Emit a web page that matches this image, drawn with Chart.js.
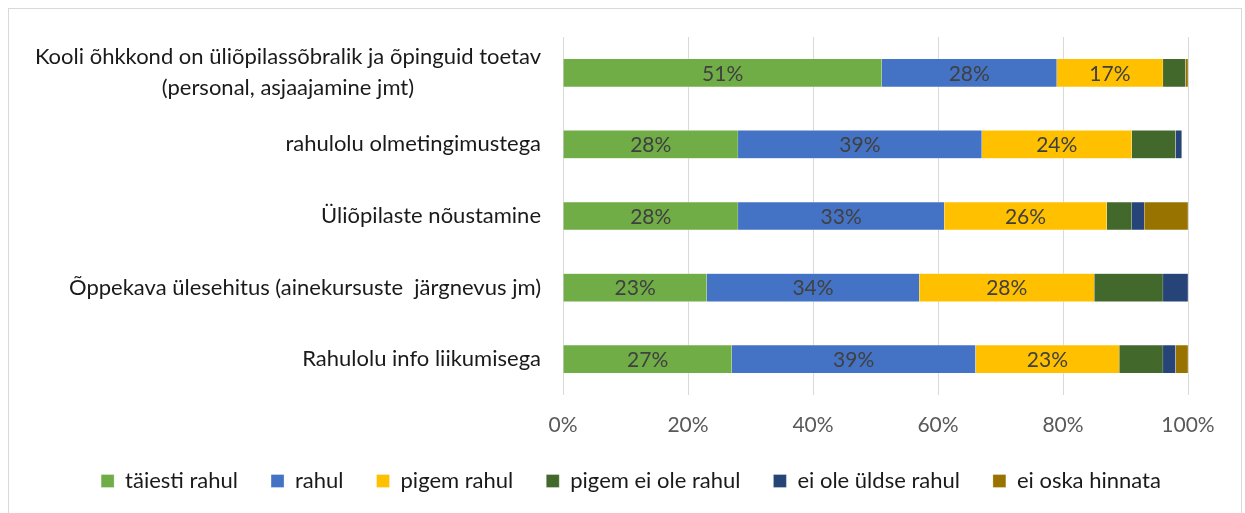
<!DOCTYPE html>
<html>
<head>
<meta charset="utf-8">
<script src="https://cdn.jsdelivr.net/npm/chart.js@4.4.1/dist/chart.umd.min.js"></script>
<style>
  body { margin: 0; background: #fff; }
  #wrap { position: relative; width: 1245px; height: 513px; }
  #frame { position: absolute; left: 8px; top: 8px; width: 1234px; height: 510px; border: 1px solid #d9d9d9; box-sizing: border-box; }
  canvas { position: absolute; left: 0; top: 0; }
</style>
</head>
<body>
<div id="wrap">
  <div id="frame"></div>
  <canvas id="chart" width="1245" height="513"></canvas>
</div>
<script>
const kategooriad = [
    ['Kooli õhkkond on üliõpilassõbralik ja õpinguid toetav', '(personal, asjaajamine jmt)'],
    'rahulolu olmetingimustega',
    'Üliõpilaste nõustamine',
    'Õppekava ülesehitus (ainekursuste  järgnevus jm)',
    'Rahulolu info liikumisega'
];
const seeriad = ['täiesti rahul', 'rahul', 'pigem rahul', 'pigem ei ole rahul', 'ei ole üldse rahul', 'ei oska hinnata'];
const taiestiRahul = [51, 28, 28, 23, 27];
const rahul = [28, 39, 33, 34, 39];
const pigemRahul = [17, 24, 26, 28, 23];
const pigemEiOle = [3.6, 7, 4, 11, 7];
const eiOleUldse = [0, 1, 2, 4, 2];
const eiOska = [0.4, 0, 7, 0, 2];
const xTicks = [0, 20, 40, 60, 80, 100];

const VARVID = ['#70AD47', '#4472C4', '#FFC000', '#43682B', '#264478', '#997300'];
const FONT = 'Lato';

// sildid tulpade sees (ainult 3 esimest seeriat)
const tulbaSildid = {
    id: 'tulbaSildid',
    afterDatasetsDraw(chart) {
        const ctx = chart.ctx;
        ctx.save();
        ctx.font = '21px ' + FONT;
        ctx.fillStyle = '#404040';
        ctx.textAlign = 'center';
        ctx.textBaseline = 'middle';
        [0, 1, 2].forEach(i => {
            chart.getDatasetMeta(i).data.forEach((bar, j) => {
                const v = chart.data.datasets[i].data[j];
                ctx.fillText(Math.round(v) + '%', (bar.x + bar.base) / 2, bar.y + 1);
            });
        });
        ctx.restore();
    }
};

// kategooriate nimed vasakul, mitmerealine keskele joondatud
const kategooriaSildid = {
    id: 'kategooriaSildid',
    afterDraw(chart) {
        const ctx = chart.ctx;
        const y = chart.scales.y;
        const parem = chart.chartArea.left - 22;
        ctx.save();
        ctx.font = '22px ' + FONT;
        ctx.fillStyle = '#1a1a1a';
        ctx.textAlign = 'center';
        ctx.textBaseline = 'middle';
        kategooriad.forEach((k, i) => {
            const read = Array.isArray(k) ? k : [k];
            const laius = Math.max(...read.map(r => ctx.measureText(r).width));
            const kesk = parem - laius / 2;
            const yc = y.getPixelForTick(i);
            read.forEach((r, n) => {
                ctx.fillText(r, kesk, yc + (n - (read.length - 1) / 2) * 31);
            });
        });
        ctx.restore();
    }
};

const andmed = [taiestiRahul, rahul, pigemRahul, pigemEiOle, eiOleUldse, eiOska];

new Chart(document.getElementById('chart'), {
    type: 'bar',
    data: {
        labels: kategooriad.map(k => Array.isArray(k) ? k.join(' ') : k),
        datasets: seeriad.map((s, i) => ({
            label: s,
            data: andmed[i],
            backgroundColor: VARVID[i],
            borderColor: 'rgba(255,255,255,0.6)',
            borderWidth: 0.5,
            barThickness: 28
        }))
    },
    options: {
        indexAxis: 'y',
        responsive: false,
        animation: false,
        layout: { padding: { left: 17, right: 0, top: 37, bottom: 11 } },
        scales: {
            x: {
                stacked: true,
                min: 0, max: 100,
                afterBuildTicks: (s) => { s.ticks = xTicks.map(v => ({ value: v })); },
                afterFit: (s) => { s.height = 42; },
                grid: { color: '#d9d9d9', drawTicks: false },
                border: { display: false },
                ticks: {
                    padding: 18,
                    color: '#595959',
                    font: { family: FONT, size: 21 },
                    callback: v => v + '%'
                }
            },
            y: {
                stacked: true,
                afterFit: (s) => { s.width = 546; },
                grid: { display: false },
                border: { display: false },
                ticks: { display: false }
            },
            // tühi telg paremal, et joonise ala lõpeks 100% juures
            yParem: {
                position: 'right',
                type: 'category',
                afterFit: (s) => { s.width = 57; },
                grid: { display: false },
                border: { display: false },
                ticks: { display: false }
            }
        },
        plugins: {
            legend: {
                position: 'bottom',
                labels: {
                    boxWidth: 13, boxHeight: 13,
                    padding: 33,
                    color: '#1a1a1a',
                    font: { family: FONT, size: 22 }
                }
            },
            tooltip: { enabled: false }
        }
    },
    plugins: [tulbaSildid, kategooriaSildid]
});
</script>
</body>
</html>
